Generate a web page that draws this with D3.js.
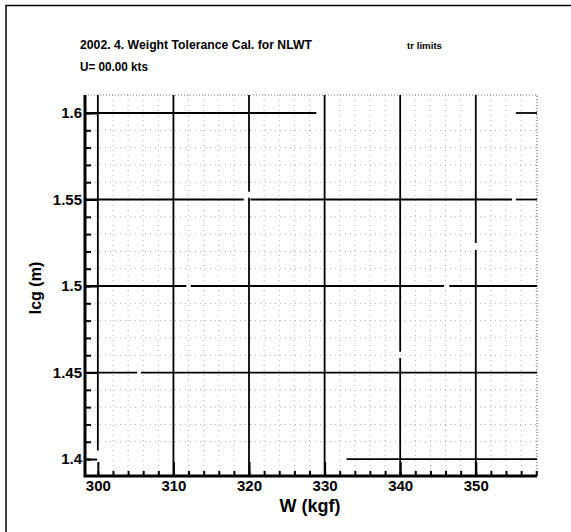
<!DOCTYPE html>
<html>
<head>
<meta charset="utf-8">
<script src="https://cdn.jsdelivr.net/npm/d3@7"></script>
<style>
  body { margin: 0; background: #fff; }
  svg text { font-family: "Liberation Sans", Arial, sans-serif; font-weight: bold; fill: #000; }
</style>
</head>
<body>
<svg id="chart" width="571" height="532"></svg>
<script>
// axis ranges and ticks
const wDomain = [298.3, 358.1];
const lcgDomain = [1.3902, 1.6104];
const wTicks = [300, 310, 320, 330, 340, 350];
const lcgTicks = [1.4, 1.45, 1.5, 1.55, 1.6];
const wMinor = d3.range(300, 358.1, 2);
const lcgMinor = d3.range(140, 161, 1).map(d => d / 100);

// solid limit lines, as they show in the scan (gaps included)
const hLines = [
  { lcg: 1.6,  w0: 298.3, w1: 328.9 },
  { lcg: 1.6,  w0: 355.3, w1: 358.1 },
  { lcg: 1.55, w0: 298.3, w1: 319.3 },
  { lcg: 1.55, w0: 320.2, w1: 354.8 },
  { lcg: 1.55, w0: 355.3, w1: 358.1 },
  { lcg: 1.5,  w0: 298.3, w1: 311.7 },
  { lcg: 1.5,  w0: 312.3, w1: 345.8 },
  { lcg: 1.5,  w0: 346.5, w1: 358.1 },
  { lcg: 1.45, w0: 298.3, w1: 305.2 },
  { lcg: 1.45, w0: 305.7, w1: 358.1 },
  { lcg: 1.4,  w0: 332.9, w1: 358.1 }
];
const vLines = [
  { w: 300, l0: 1.405,  l1: 1.6104 },
  { w: 310, l0: 1.3902, l1: 1.6104 },
  { w: 320, l0: 1.3902, l1: 1.551 },
  { w: 320, l0: 1.5545, l1: 1.6104 },
  { w: 330, l0: 1.3902, l1: 1.6104 },
  { w: 340, l0: 1.3902, l1: 1.4584 },
  { w: 340, l0: 1.462,  l1: 1.6104 },
  { w: 350, l0: 1.3902, l1: 1.5208 },
  { w: 350, l0: 1.5249, l1: 1.6104 }
];

const svg = d3.select("#chart");
const pl = 85, pr = 537, pt = 95, pb = 476;

const x = d3.scaleLinear().domain(wDomain).range([pl, pr]);
const y = d3.scaleLinear().domain(lcgDomain).range([pb, pt]);

// page frame (only top and left survive in the scan)
svg.append("path")
  .attr("d", "M6,532V5.5H571")
  .attr("fill", "none").attr("stroke", "#000").attr("stroke-width", 1.5);

// dotted minor grid
const grid = svg.append("g").attr("stroke", "#b4b4b4").attr("stroke-width", 1)
  .attr("stroke-dasharray", "1,4");
grid.selectAll("line.gx").data(wMinor.filter(d => !wTicks.includes(d)))
  .join("line").attr("class", "gx")
  .attr("x1", d => x(d)).attr("x2", d => x(d))
  .attr("y1", pb).attr("y2", pt);
grid.selectAll("line.gy").data(lcgMinor.filter(d => !lcgTicks.some(t => Math.abs(t - d) < 1e-6)))
  .join("line").attr("class", "gy")
  .attr("x1", pl).attr("x2", pr)
  .attr("y1", d => y(d)).attr("y2", d => y(d));

// dotted frame on top / right
svg.append("path")
  .attr("d", `M${pl},${pt}H${pr}V${pb}`)
  .attr("fill", "none").attr("stroke", "#777").attr("stroke-width", 1.2)
  .attr("stroke-dasharray", "1,2");

// solid major lines
svg.append("g").selectAll("line").data(hLines).join("line")
  .attr("x1", d => x(d.w0)).attr("x2", d => x(d.w1))
  .attr("y1", d => y(d.lcg)).attr("y2", d => y(d.lcg))
  .attr("stroke", "#000").attr("stroke-width", 1.8);
svg.append("g").selectAll("line").data(vLines).join("line")
  .attr("x1", d => x(d.w)).attr("x2", d => x(d.w))
  .attr("y1", d => y(d.l0)).attr("y2", d => y(d.l1))
  .attr("stroke", "#000").attr("stroke-width", 1.8);

// axes, ticks pointing inward
function styleAxis(g) {
  g.select(".domain").remove();
  g.selectAll("line").attr("stroke", "#000").attr("stroke-width", 2);
  g.selectAll("text").attr("font-size", 15).attr("font-family", null);
}
svg.append("g").attr("transform", `translate(0,${pb})`)
  .call(d3.axisBottom(x).tickValues(wMinor).tickSizeInner(-5).tickSizeOuter(0).tickFormat(""))
  .call(styleAxis);
svg.append("g").attr("transform", `translate(0,${pb})`)
  .call(d3.axisBottom(x).tickValues(wTicks).tickSizeInner(-14).tickSizeOuter(0).tickPadding(4).tickFormat(d3.format("d")))
  .call(styleAxis);
svg.append("g").attr("transform", `translate(${pl},0)`)
  .call(d3.axisLeft(y).tickValues(lcgMinor).tickSizeInner(-6).tickSizeOuter(0).tickFormat(""))
  .call(styleAxis);
svg.append("g").attr("transform", `translate(${pl},0)`)
  .call(d3.axisLeft(y).tickValues(lcgTicks).tickSizeInner(-12).tickSizeOuter(0).tickPadding(3).tickFormat(d => String(d)))
  .call(styleAxis);

// solid axis lines
svg.append("path")
  .attr("d", `M${pl},${pt}V${pb}H${pr}`)
  .attr("fill", "none").attr("stroke", "#000").attr("stroke-width", 3);

// titles
svg.append("text").attr("x", 80).attr("y", 49).attr("font-size", 12)
  .attr("textLength", 232).attr("lengthAdjust", "spacingAndGlyphs")
  .text("2002. 4.  Weight Tolerance Cal. for NLWT");
svg.append("text").attr("x", 407).attr("y", 49).attr("font-size", 9)
  .attr("textLength", 35).attr("lengthAdjust", "spacingAndGlyphs")
  .text("tr limits");
svg.append("text").attr("x", 80).attr("y", 71).attr("font-size", 12)
  .attr("textLength", 68).attr("lengthAdjust", "spacingAndGlyphs")
  .text("U= 00.00 kts");

svg.append("text").attr("x", 310).attr("y", 512).attr("font-size", 18)
  .attr("text-anchor", "middle").text("W (kgf)");
svg.append("text").attr("transform", "translate(41,288) rotate(-90)")
  .attr("font-size", 16).attr("text-anchor", "middle").text("lcg (m)");
</script>
</body>
</html>
